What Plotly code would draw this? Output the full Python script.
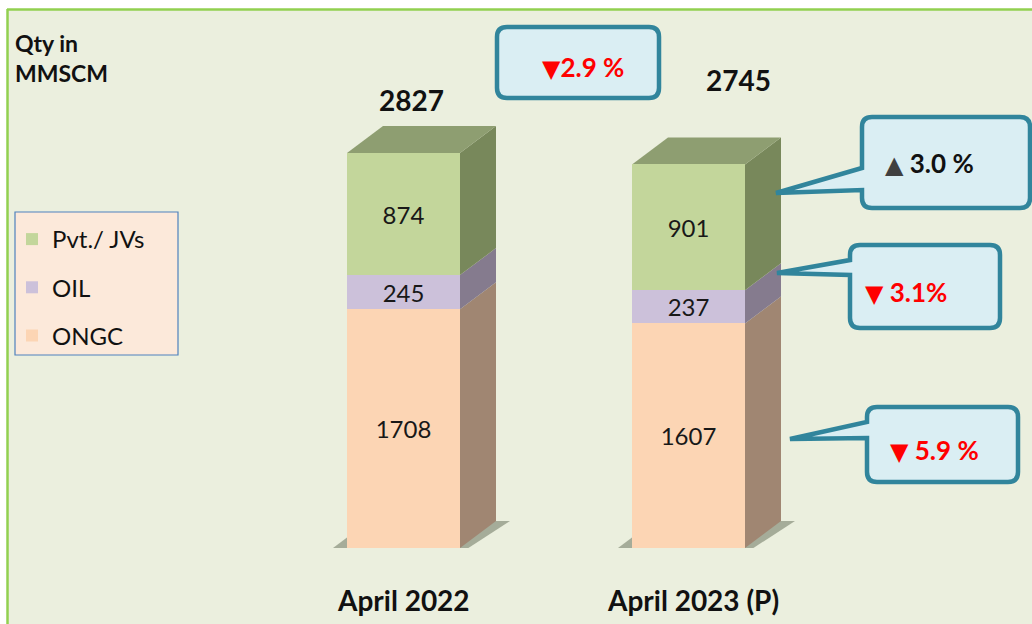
import plotly.graph_objects as go

# ---------------- data ----------------
categories = ["April 2022", "April 2023 (P)"]
ongc = [1708, 1607]
oil = [245, 237]
pvt = [874, 901]
totals = [2827, 2745]
series_names = ["ONGC", "OIL", "Pvt./ JVs"]
segment_changes = ["▼ 5.9 %", "▼ 3.1%", "▲ 3.0 %"]   # ONGC, OIL, Pvt./JVs
total_change = "▼2.9 %"
unit_label = "Qty in<br>MMSCM"
title_text = "Figure 5: Natural Gas Production during April 2023 (Qty in MMSCM)"

# ---------------- styles ----------------
W, H = 1032, 624
BASE_PX = 548
PX_PER_UNIT = 395 / 2827
X_SPACING_PX = 285
FIRST_CENTER_PX = 403.5
FONT = "Lato, sans-serif"
TRI_FONT = "'DejaVu Sans'"

front_colors = ["#FCD5B4", "#CCC1DA", "#C3D69B"]
side_colors = ["#A08672", "#857B8E", "#78885B"]
top_color = "#8E9E71"
bg_color = "#EBEFDE"
box_fill = "#DAEEF3"
box_line = "#31859C"

y0 = -(H - BASE_PX) / PX_PER_UNIT
y1 = BASE_PX / PX_PER_UNIT
x0 = -FIRST_CENTER_PX / X_SPACING_PX
x1 = x0 + W / X_SPACING_PX
bar_w = 113 / X_SPACING_PX
dx = 36 / X_SPACING_PX
dy = 27 / PX_PER_UNIT


def pxx(p):
    return p / W


def pxy(p):
    return 1 - p / H


xpos = list(range(len(categories)))
series = [ongc, oil, pvt]
legend_ranks = [3, 2, 1]

fig = go.Figure()
for name, vals, col, rk in zip(series_names, series, front_colors, legend_ranks):
    fig.add_trace(go.Bar(
        x=xpos, y=vals, name=name, width=bar_w, legendgroup=name, legendrank=rk,
        marker=dict(color=col, line=dict(width=0)),
        text=[str(v) for v in vals], textposition="inside",
        insidetextanchor="middle", constraintext="none",
        textfont=dict(family=FONT, size=24, color="#181818"),
        hoverinfo="name+y",
    ))

shapes = []
# chart area background with green border (left & top)
shapes.append(dict(type="rect", xref="paper", yref="paper", layer="below",
                   x0=pxx(7), x1=pxx(W + 5), y0=pxy(H + 5), y1=pxy(9),
                   fillcolor=bg_color, line=dict(width=0)))
shapes.append(dict(type="line", xref="paper", yref="paper", layer="below",
                   x0=pxx(7), x1=pxx(W + 5), y0=pxy(9.5), y1=pxy(9.5),
                   line=dict(color="#92D050", width=2.5)))
shapes.append(dict(type="line", xref="paper", yref="paper", layer="below",
                   x0=pxx(7.5), x1=pxx(7.5), y0=pxy(9), y1=pxy(H + 5),
                   line=dict(color="#92D050", width=2.5)))

# 3D decorations computed from data
sh = 14 / X_SPACING_PX
for i, xc in enumerate(xpos):
    xl, xr = xc - bar_w / 2, xc + bar_w / 2
    shapes.append(dict(type="path", xref="x", yref="y", layer="below",
                       path=f"M{xl - sh},0 L{xr + sh * 0.6},0 L{xr + dx + sh},{dy} L{xl + dx - sh},{dy} Z",
                       fillcolor="rgba(96,106,84,0.5)", line=dict(width=0)))
    lo = 0
    for vals, scol in zip(series, side_colors):
        hi = lo + vals[i]
        shapes.append(dict(type="path", xref="x", yref="y", layer="below",
                           path=f"M{xr},{lo} L{xr + dx},{lo + dy} L{xr + dx},{hi + dy} L{xr},{hi} Z",
                           fillcolor=scol, line=dict(width=0)))
        lo = hi
    shapes.append(dict(type="path", xref="x", yref="y", layer="below",
                       path=f"M{xl},{lo} L{xl + dx},{lo + dy} L{xr + dx},{lo + dy} L{xr},{lo} Z",
                       fillcolor=top_color, line=dict(width=0)))

# legend box
shapes.append(dict(type="rect", xref="paper", yref="paper", layer="below",
                   x0=pxx(15), x1=pxx(178), y0=pxy(355), y1=pxy(212),
                   fillcolor="#FCE9DA", line=dict(color="#4F81BD", width=1.2)))


def callout(L, T, R, B, tip=None, r=10):
    path = f"M{pxx(L + r)},{pxy(T)} L{pxx(R - r)},{pxy(T)} Q{pxx(R)},{pxy(T)} {pxx(R)},{pxy(T + r)} "
    path += f"L{pxx(R)},{pxy(B - r)} Q{pxx(R)},{pxy(B)} {pxx(R - r)},{pxy(B)} "
    path += f"L{pxx(L + r)},{pxy(B)} Q{pxx(L)},{pxy(B)} {pxx(L)},{pxy(B - r)} "
    if tip:
        (p1, p2, tx, ty) = tip
        path += f"L{pxx(L)},{pxy(p2)} L{pxx(tx)},{pxy(ty)} L{pxx(L)},{pxy(p1)} "
    path += f"L{pxx(L)},{pxy(T + r)} Q{pxx(L)},{pxy(T)} {pxx(L + r)},{pxy(T)} Z"
    return dict(type="path", xref="paper", yref="paper", layer="above", path=path,
                fillcolor=box_fill, line=dict(color=box_line, width=4.5))


shapes.append(callout(497, 27, 659, 98))
shapes.append(callout(862, 117, 1030, 208, (168, 190, 776, 193)))
shapes.append(callout(850, 245, 1000, 328, (260, 275, 777, 273)))
shapes.append(callout(867, 407, 1018, 482, (422, 438, 790, 439)))

annotations = []
annotations.append(dict(xref="paper", yref="paper", x=pxx(2), y=pxy(1), xanchor="left",
                        yanchor="bottom", showarrow=False, text=f"<b>{title_text}</b>",
                        font=dict(family=FONT, size=30, color="#4F81BD")))
annotations.append(dict(xref="paper", yref="paper", x=pxx(13), y=pxy(58), xanchor="left",
                        yanchor="middle", showarrow=False, align="left",
                        text=f"<b>{unit_label}</b>",
                        font=dict(family=FONT, size=23, color="#111111")))
for i, c in enumerate(categories):
    annotations.append(dict(xref="x", yref="paper", x=xpos[i] + [0.0, 0.015][i], y=pxy(600),
                            xanchor="center", yanchor="middle", showarrow=False,
                            text=f"<b>{c}</b>", font=dict(family=FONT, size=28, color="#111111")))
total_offsets = [(8, 26), (50, 57)]
for i, t in enumerate(totals):
    annotations.append(dict(xref="x", yref="y", x=xpos[i], y=t + dy, xshift=total_offsets[i][0],
                            yshift=total_offsets[i][1], xanchor="center", yanchor="middle",
                            showarrow=False, text=f"<b>{t}</b>",
                            font=dict(family=FONT, size=28, color="#111111")))


def change_text(s):
    arrow, rest = s[0], s[1:]
    tri = f"<span style=\"font-family:{TRI_FONT};font-size:24px;color:%s\">{arrow}</span>"
    if arrow == "▲":
        return (tri % "#404040") + f"<b>{rest}</b>", "#111111"
    return (tri % "#FF0000") + f"<b>{rest}</b>", "#FF0000"


t, col = change_text(total_change)
annotations.append(dict(xref="paper", yref="paper", x=pxx(583), y=pxy(67), showarrow=False,
                        xanchor="center", yanchor="middle",
                        text=t, font=dict(family=FONT, size=26, color=col)))
callout_centers = [(934, 450), (906, 292), (929, 163)]
for s, (cx, cy) in zip(segment_changes, callout_centers):
    t, col = change_text(s)
    annotations.append(dict(xref="paper", yref="paper", x=pxx(cx), y=pxy(cy), showarrow=False,
                            xanchor="center", yanchor="middle",
                            text=t, font=dict(family=FONT, size=26, color=col)))

fig.update_layout(
    width=W, height=H,
    margin=dict(l=0, r=0, t=0, b=0),
    paper_bgcolor="white", plot_bgcolor="rgba(0,0,0,0)",
    barmode="stack", bargap=0,
    xaxis=dict(range=[x0, x1], visible=False, fixedrange=True),
    yaxis=dict(range=[y0, y1], visible=False, fixedrange=True),
    showlegend=True,
    legend=dict(x=pxx(12), y=pxy(217), xanchor="left", yanchor="top",
                bgcolor="rgba(0,0,0,0)", borderwidth=0,
                traceorder="grouped", tracegroupgap=14,
                font=dict(family=FONT, size=24, color="#111111"),
                itemwidth=30),
    shapes=shapes,
    annotations=annotations,
)

fig.write_html("out.html", config={"displayModeBar": False},
               post_script="document.body.style.margin='0px';document.body.style.overflow='hidden';")
